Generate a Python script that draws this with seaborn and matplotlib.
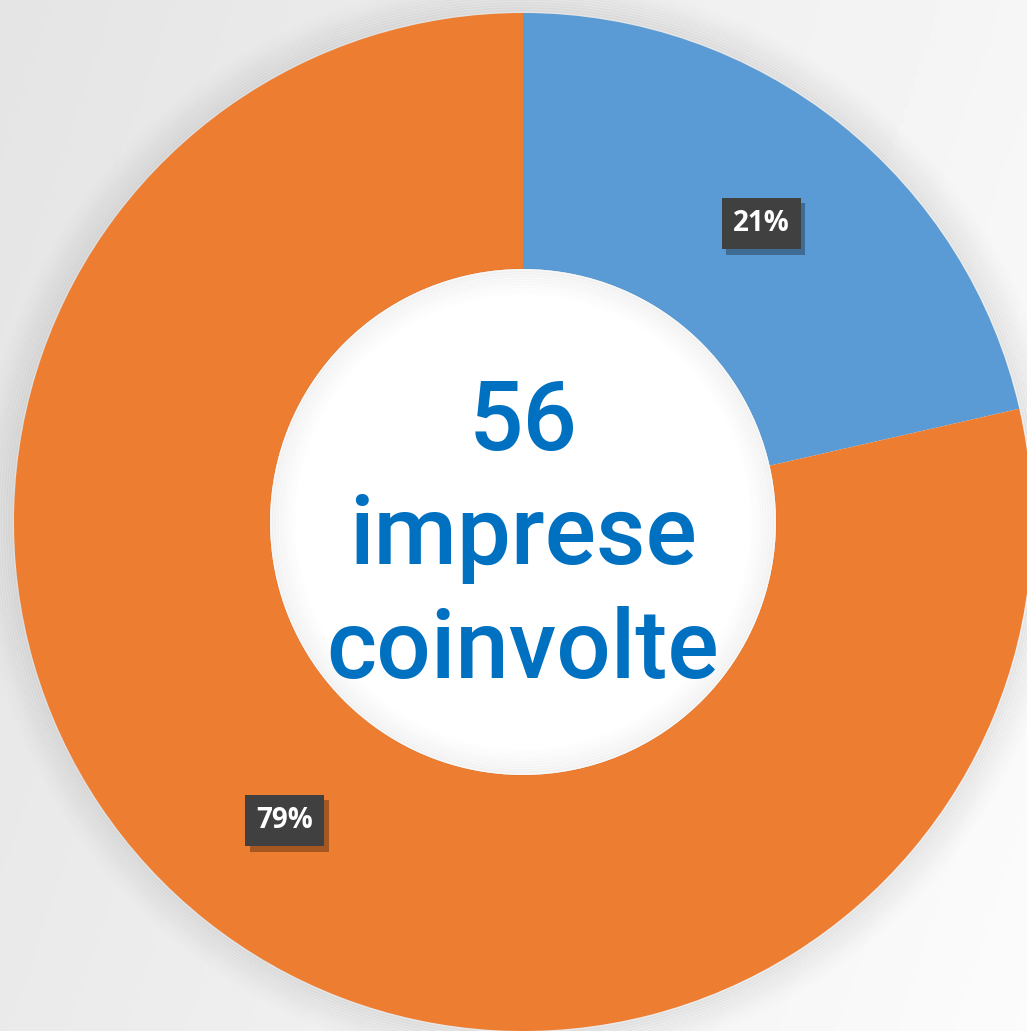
import numpy as np
import matplotlib
matplotlib.use("Agg")
import matplotlib.pyplot as plt
import matplotlib.patheffects as pe
from matplotlib.patches import Circle
import seaborn as sns

# Data
categories = ["Gruppo A", "Gruppo B"]
counts = [12, 44]
pct_labels = ["21%", "79%"]
colors = ["#5B9BD5", "#ED7D31"]
center_lines = ["56", "imprese", "coinvolte"]

sns.set_theme(style="white")
plt.rcParams['font.family'] = ['Roboto', 'DejaVu Sans']

W, H = 1027, 1031
fig = plt.figure(figsize=(W / 100, H / 100), dpi=100)

# background gradient
bg = fig.add_axes([0, 0, 1, 1])
bg.set_axis_off()
yy, xx = np.mgrid[0:1:200j, 0:1:200j]
grad = 0.895 + 0.09 * (xx * 0.75 + yy * 0.25)
bg.imshow(grad, cmap="gray", vmin=0, vmax=1, extent=[0, 1, 0, 1], aspect="auto", origin="upper")

ax = fig.add_axes([0, 0, 1, 1])
cx, cy, R = 523, 522, 509

wedges, texts, autotexts = ax.pie(
    counts, colors=colors, startangle=90, counterclock=False, radius=1.0,
    wedgeprops=dict(width=0.503, linewidth=0), labels=None,
    autopct=lambda p: f"{p:.0f}%", pctdistance=0.75,
    textprops=dict(color="white", fontsize=20, fontweight="bold", family=["Open Sans", "DejaVu Sans"]),
)
ax.set_axis_off()
ax.patch.set_alpha(0)
ax.set_xlim((0 - cx) / R, (W - cx) / R)
ax.set_ylim((cy - H) / R, (cy - 0) / R)
ax.set_aspect("equal")

# soft shadow around donut
for i in range(14):
    r = 1.0 + 0.005 * (i + 0.5)
    ax.add_patch(Circle((0, 0), r, facecolor="none",
                        edgecolor=(0, 0, 0, 0.045 * (1 - i / 14)), lw=3, zorder=1))

for w in wedges:
    w.set_zorder(2)
for t in autotexts:
    t.set_zorder(5)
    t.set_bbox(dict(boxstyle="square,pad=0.40", facecolor="#404040", edgecolor="none"))
    t.get_bbox_patch().set_path_effects([pe.withSimplePatchShadow(offset=(3, -4), shadow_rgbFace="black", alpha=0.3)])

# inner shadow in the hole
ax.add_patch(Circle((0, 0), 0.497, facecolor="white", edgecolor="none", zorder=3))
for i in range(10):
    r = 0.497 - 0.005 * (i + 0.5)
    ax.add_patch(Circle((0, 0), r, facecolor="none",
                        edgecolor=(0, 0, 0, 0.03 * (1 - i / 10)), lw=3, zorder=3))

blue = "#0070C0"
baselines_px = [450, 564, 678]
for line, bpx in zip(center_lines, baselines_px):
    ax.text(0, (cy - bpx) / R, line, ha="center", va="baseline", color=blue,
            fontsize=69, fontweight="medium", zorder=6)

fig.savefig("out.png", dpi=100)
